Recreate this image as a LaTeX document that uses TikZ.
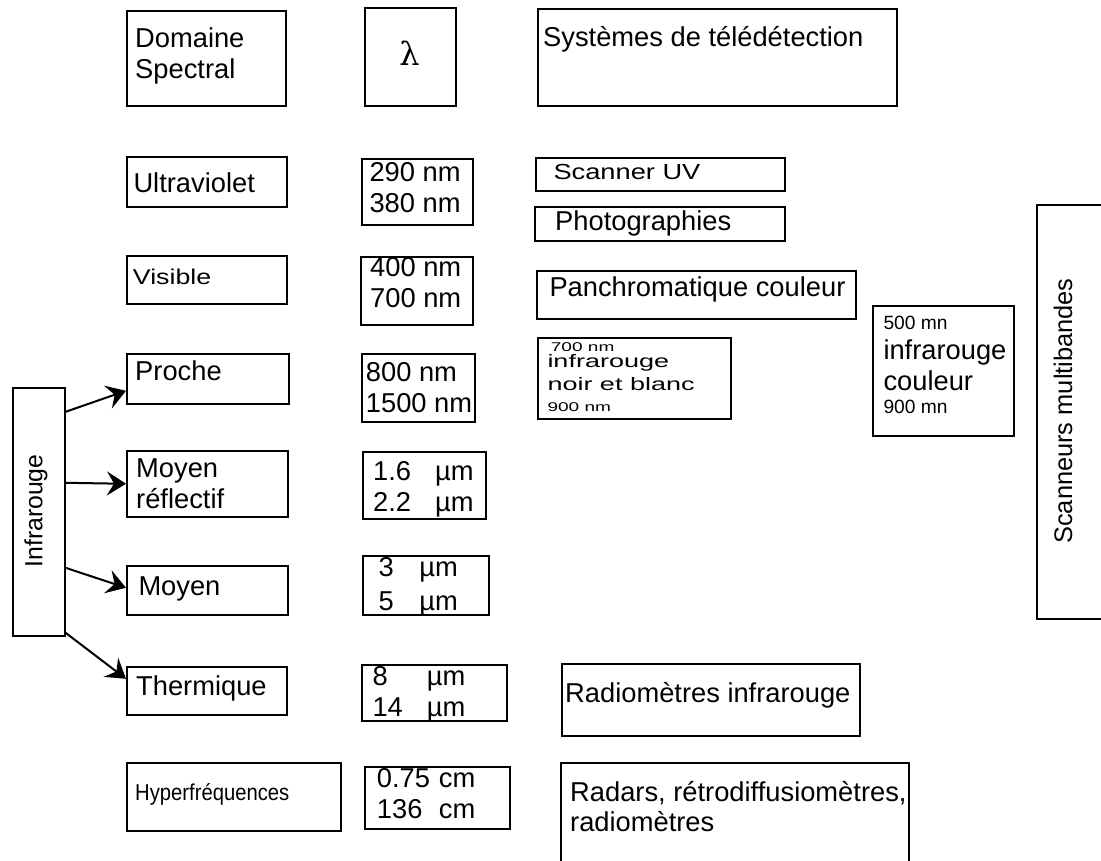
\documentclass[tikz,border=0pt]{standalone}
\usepackage{fontspec}
\setmainfont{Liberation Sans}
\newfontfamily\largefont[FakeStretch=1.25]{Liberation Sans}
\newfontfamily\tresfont[FakeStretch=1.5]{Liberation Sans}
\newfontfamily\etroitfont[FakeStretch=0.88]{Liberation Sans}
\newfontfamily\lettrefont{DejaVu Serif}
\usetikzlibrary{arrows.meta}
\begin{document}
\begin{tikzpicture}[x=1pt,y=-1pt]
    \tikzset{boite/.style = {draw=black, line width=1.6pt, shape=rectangle, inner sep=0pt, anchor=north west},
      txt/.style = {inner sep=0pt, anchor=base west, align=left, font=\fontsize{27.3}{30.7}\selectfont},
      petit/.style = {txt, font=\fontsize{19.2}{22}\selectfont},
      large/.style = {txt, font=\largefont\fontsize{21.6}{24}\selectfont},
      tres/.style = {txt, font=\tresfont\fontsize{18}{22}\selectfont},
      vertical/.style = {inner sep=0pt, anchor=base, rotate=90, font=\fontsize{25}{30}\selectfont},
      fleche/.style = {line width=2pt, -{Stealth[length=19pt,width=24pt,inset=7pt]}}}
    \useasboundingbox (0,0) rectangle (1101,861);
    \clip (0,0) rectangle (1101,861);
    % en-tetes
    \node[boite, minimum width=159pt, minimum height=95pt] (dom) at (126,10) {};
    \node[boite, minimum width=91pt, minimum height=98pt] (lam) at (364,7) {};
    \node[boite, minimum width=359pt, minimum height=97pt] (sys) at (537,8) {};
    \node[txt] (t-dom) at (135,78.7) {Domaine\\Spectral};
    \node[inner sep=0pt, anchor=base, font=\lettrefont\fontsize{32}{36}\selectfont] (t-lam) at (409.5,66) {λ};
    \node[txt] (t-sys) at (543,46.7) {Systèmes de télédétection};
    % ultraviolet
    \node[boite, minimum width=160pt, minimum height=50pt] (uv) at (126,156) {};
    \node[boite, minimum width=111pt, minimum height=66pt] (uvl) at (361,158) {};
    \node[boite, minimum width=249pt, minimum height=33pt] (scuv) at (535,157) {};
    \node[boite, minimum width=250pt, minimum height=34pt] (photo) at (534,206) {};
    \node[txt] (t-uv) at (133.3,192.3) {Ultraviolet};
    \node[txt] (t-uvl) at (369.3,212.3) {290 nm\\380 nm};
    \node[large, font=\largefont\fontsize{21.8}{24}\selectfont] (t-scuv) at (553.3,180) {Scanner UV};
    \node[txt] (t-photo) at (555,231) {Photographies};
    % visible
    \node[boite, minimum width=160pt, minimum height=48pt] (vis) at (126,255) {};
    \node[boite, minimum width=112pt, minimum height=68pt] (visl) at (360,256) {};
    \node[boite, minimum width=319pt, minimum height=48pt] (pan) at (536,270) {};
    \node[large, font=\largefont\fontsize{21.4}{24}\selectfont] (t-vis) at (132.7,285) {Visible};
    \node[txt] (t-visl) at (370,307.3) {400 nm\\700 nm};
    \node[txt] (t-pan) at (549.3,296.7) {Panchromatique couleur};
    % proche infrarouge
    \node[boite, minimum width=162pt, minimum height=50pt] (proche) at (126,353) {};
    \node[boite, minimum width=113pt, minimum height=68pt] (prochel) at (361,353) {};
    \node[boite, minimum width=193pt, minimum height=81pt] (irnb) at (537,337) {};
    \node[boite, minimum width=141pt, minimum height=130pt] (ircoul) at (872,305) {};
    \node[txt] (t-proche) at (135,380) {Proche};
    \node[txt] (t-prochel) at (365.7,412) {800 nm\\1500 nm};
    \node[tres, font=\tresfont\fontsize{12.7}{16}\selectfont] (t-irnb-a) at (550.7,351.7) {700 nm};
    \node[tres] (t-irnb-b) at (547.3,367.7) {infrarouge};
    \node[tres] (t-irnb-c) at (547.3,390) {noir et blanc};
    \node[tres, font=\tresfont\fontsize{12.7}{16}\selectfont] (t-irnb-d) at (547.3,411.7) {900 nm};
    \node[petit] (t-ircoul-a) at (883.3,329) {500 mn};
    \node[txt] (t-ircoul-b) at (883.3,359.3) {infrarouge};
    \node[txt] (t-ircoul-c) at (883.3,390.7) {couleur};
    \node[petit] (t-ircoul-d) at (883.3,413.3) {900 mn};
    \node[boite, minimum width=90pt, minimum height=414pt] (scan) at (1036,204) {};
    \node[vertical, font=\fontsize{25.4}{30}\selectfont] (t-scan) at (1072,411) {Scanneurs multibandes};
    % infrarouge
    \node[boite, minimum width=52pt, minimum height=248pt] (ir) at (12,387) {};
    \node[vertical, font=\fontsize{24.8}{30}\selectfont] (t-ir) at (42.3,511) {Infrarouge};
    \node[boite, minimum width=161pt, minimum height=66pt] (mref) at (126,450) {};
    \node[boite, minimum width=123pt, minimum height=67pt] (mrefl) at (362,451) {};
    \node[txt] (t-mref) at (136,508.3) {Moyen\\réflectif};
    \node[txt] (t-mrefl) at (373,511) {\makebox[62pt][l]{1.6}µm\\\makebox[62pt][l]{2.2}µm};
    \node[boite, minimum width=161pt, minimum height=49pt] (moy) at (126,565) {};
    \node[boite, minimum width=126pt, minimum height=59pt] (moyl) at (362,555) {};
    \node[txt] (t-moy) at (138.3,595.7) {Moyen};
    \node[txt] (t-moyl) at (378.3,610) {\makebox[41pt][l]{3}µm\\[2.6pt]\makebox[41pt][l]{5}µm};
    \node[boite, minimum width=160pt, minimum height=48pt] (therm) at (126,666) {};
    \node[boite, minimum width=145pt, minimum height=56pt] (therml) at (361,664) {};
    \node[boite, minimum width=298pt, minimum height=72pt] (radio) at (561,663) {};
    \node[txt] (t-therm) at (136,695) {Thermique};
    \node[txt] (t-therml) at (372.3,716) {\makebox[54.4pt][l]{8}µm\\\makebox[54.4pt][l]{14}µm};
    \node[txt] (t-radio) at (565,702.7) {Radiomètres infrarouge};
    \draw[fleche] ([yshift=100pt]ir.east) -- ([yshift=-12pt]proche.west);
    \draw[fleche] ([yshift=29pt]ir.east) -- (mref.west);
    \draw[fleche] ([yshift=-56pt]ir.east) -- ([yshift=2.5pt]moy.west);
    \draw[fleche] ([yshift=-121pt]ir.east) -- ([yshift=12pt]therm.west);
    % hyperfrequences
    \node[boite, minimum width=214pt, minimum height=68pt] (hyp) at (126,762) {};
    \node[boite, minimum width=145pt, minimum height=62pt] (hypl) at (364,766) {};
    \node[boite, minimum width=348pt, minimum height=120pt] (radar) at (560,762) {};
    \node[txt, font=\etroitfont\fontsize{23}{28}\selectfont] (t-hyp) at (135,800) {Hyperfréquences};
    \node[txt] (t-hypl) at (376.7,818.3) {\makebox[62pt][l]{0.75}cm\\\makebox[62pt][l]{136}cm};
    \node[txt, font=\fontsize{27.3}{30}\selectfont] (t-radar) at (570,831.7) {Radars, rétrodiffusiomètres,\\radiomètres};
\end{tikzpicture}
\end{document}
